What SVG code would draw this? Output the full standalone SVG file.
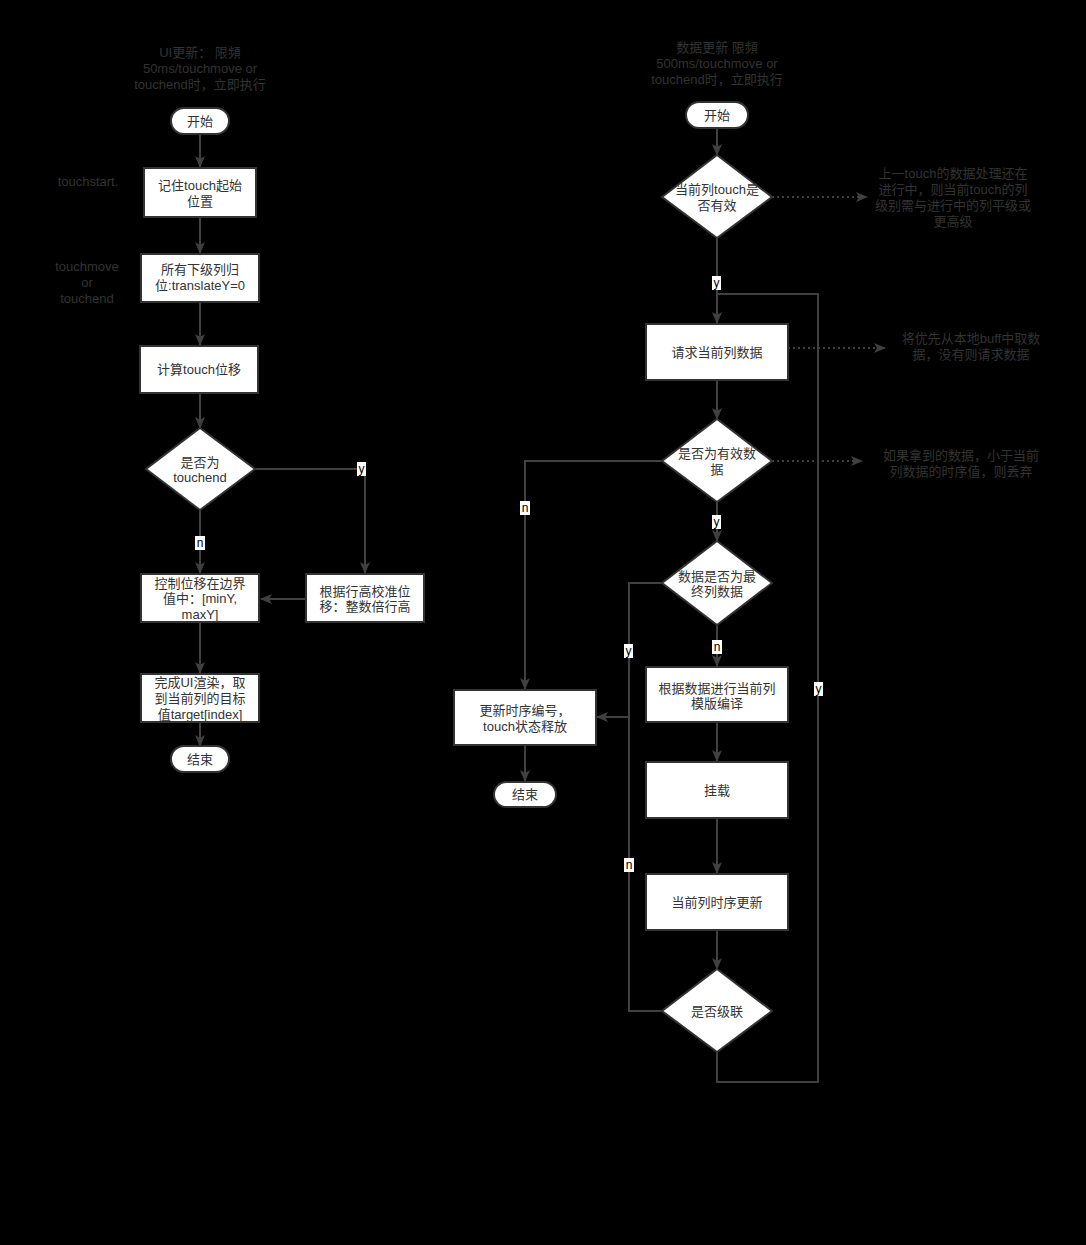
<svg xmlns="http://www.w3.org/2000/svg" width="1086" height="1245" viewBox="0 0 1086 1245">
<defs>
<style>
text{font-family:"Liberation Sans","Noto Sans CJK SC",sans-serif;font-size:13px;fill:#333;text-anchor:middle;dominant-baseline:central}
.node rect,.node polygon{fill:#fff;stroke:#333;stroke-width:2}
.ann{fill:#333}
.c{fill:none;stroke:#404040;stroke-width:2}
.d{fill:none;stroke:#404040;stroke-width:2;stroke-dasharray:2 3}
.lb{fill:#fff;stroke:none}
.lt{fill:#000;font-size:12px}
</style>
<marker id="ah" viewBox="0 0 12 12" refX="11" refY="6" markerWidth="12" markerHeight="12" markerUnits="userSpaceOnUse" orient="auto">
<path d="M0,1 L12,6 L0,11 L3,6 Z" fill="#404040"/>
</marker>
</defs>
<rect x="0" y="0" width="1086" height="1245" fill="#000"/>

<g id="annotations">
<text class="ann" x="200" y="52"><tspan x="200" y="52">UI更新： 限頻</tspan><tspan x="200" y="68">50ms/touchmove or</tspan><tspan x="200" y="84">touchend时，立即执行</tspan></text>
<text class="ann" x="88" y="181">touchstart.</text>
<text class="ann" x="87" y="266"><tspan x="87" y="266">touchmove</tspan><tspan x="87" y="282">or</tspan><tspan x="87" y="298">touchend</tspan></text>
<text class="ann" x="717" y="47"><tspan x="717" y="47">数据更新 限頻</tspan><tspan x="717" y="63">500ms/touchmove or</tspan><tspan x="717" y="79">touchend时，立即执行</tspan></text>
<text class="ann" x="953" y="173"><tspan x="953" y="173">上一touch的数据处理还在</tspan><tspan x="953" y="189">进行中，则当前touch的列</tspan><tspan x="953" y="205">级别需与进行中的列平级或</tspan><tspan x="953" y="221">更高级</tspan></text>
<text class="ann" x="971" y="338"><tspan x="971" y="338">将优先从本地buff中取数</tspan><tspan x="971" y="354">据，没有则请求数据</tspan></text>
<text class="ann" x="961" y="455"><tspan x="961" y="455">如果拿到的数据，小于当前</tspan><tspan x="961" y="471">列数据的时序值，则丢弃</tspan></text>
</g>

<g id="connectors">
<line class="c" x1="200" y1="134" x2="200" y2="167" marker-end="url(#ah)"/>
<line class="c" x1="200" y1="217" x2="200" y2="253" marker-end="url(#ah)"/>
<line class="c" x1="200" y1="302" x2="200" y2="345" marker-end="url(#ah)"/>
<line class="c" x1="200" y1="393" x2="200" y2="428" marker-end="url(#ah)"/>
<polyline class="c" points="255,469 365,469 365,573" marker-end="url(#ah)"/>
<line class="c" x1="200" y1="510" x2="200" y2="573" marker-end="url(#ah)"/>
<line class="c" x1="306" y1="599" x2="261" y2="599" marker-end="url(#ah)"/>
<line class="c" x1="200" y1="622" x2="200" y2="673" marker-end="url(#ah)"/>
<line class="c" x1="200" y1="722" x2="200" y2="746" marker-end="url(#ah)"/>

<line class="c" x1="717" y1="128" x2="717" y2="155" marker-end="url(#ah)"/>
<line class="d" x1="772" y1="197" x2="867" y2="197" marker-end="url(#ah)"/>
<line class="c" x1="717" y1="238" x2="717" y2="323" marker-end="url(#ah)"/>
<line class="d" x1="788" y1="348" x2="885" y2="348" marker-end="url(#ah)"/>
<line class="c" x1="717" y1="380" x2="717" y2="419" marker-end="url(#ah)"/>
<line class="d" x1="772" y1="461" x2="862" y2="461" marker-end="url(#ah)"/>
<polyline class="c" points="662,461 525,461 525,689" marker-end="url(#ah)"/>
<line class="c" x1="717" y1="502" x2="717" y2="541" marker-end="url(#ah)"/>
<polyline class="c" points="662,583 629,583 629,717 597,717" marker-end="url(#ah)"/>
<polyline class="c" points="662,1011 629,1011 629,717"/>
<line class="c" x1="717" y1="625" x2="717" y2="666" marker-end="url(#ah)"/>
<line class="c" x1="717" y1="722" x2="717" y2="761" marker-end="url(#ah)"/>
<line class="c" x1="717" y1="818" x2="717" y2="873" marker-end="url(#ah)"/>
<line class="c" x1="717" y1="930" x2="717" y2="969" marker-end="url(#ah)"/>
<polyline class="c" points="717,1052 717,1082 818,1082 818,294 717,294"/>
<line class="c" x1="525" y1="745" x2="525" y2="781" marker-end="url(#ah)"/>

<rect class="lb" x="357" y="462" width="9" height="14"/><text class="lt" x="361.5" y="469">y</text>
<rect class="lb" x="195" y="536" width="10" height="14"/><text class="lt" x="200" y="543">n</text>
<rect class="lb" x="712" y="276" width="9" height="14"/><text class="lt" x="716.5" y="283">y</text>
<rect class="lb" x="520" y="501" width="10" height="14"/><text class="lt" x="525" y="508">n</text>
<rect class="lb" x="712" y="515" width="9" height="14"/><text class="lt" x="716.5" y="522">y</text>
<rect class="lb" x="624" y="644" width="9" height="14"/><text class="lt" x="628.5" y="651">y</text>
<rect class="lb" x="712" y="640" width="10" height="14"/><text class="lt" x="717" y="647">n</text>
<rect class="lb" x="814" y="682" width="9" height="14"/><text class="lt" x="818.5" y="689">y</text>
<rect class="lb" x="624" y="858" width="10" height="14"/><text class="lt" x="629" y="865">n</text>
</g>

<g id="n-start-l" class="node"><rect x="171" y="108" width="58" height="26" rx="13"/><text x="200" y="121">开始</text></g>
<g id="n-remember" class="node"><rect x="144" y="168" width="112" height="49"/><text x="200" y="185"><tspan x="200" y="185">记住touch起始</tspan><tspan x="200" y="201">位置</tspan></text></g>
<g id="n-reset" class="node"><rect x="141" y="254" width="118" height="48"/><text x="200" y="269"><tspan x="200" y="269">所有下级列归</tspan><tspan x="200" y="285">位:translateY=0</tspan></text></g>
<g id="n-calc" class="node"><rect x="140" y="346" width="118" height="47"/><text x="199" y="369">计算touch位移</text></g>
<g id="n-isend" class="node"><polygon points="200,428 255,469 200,510 146,469"/><text x="200" y="462"><tspan x="200" y="462">是否为</tspan><tspan x="200" y="477">touchend</tspan></text></g>
<g id="n-calibrate" class="node"><rect x="306" y="574" width="118" height="48"/><text x="365" y="591"><tspan x="365" y="591">根据行高校准位</tspan><tspan x="365" y="606">移：整数倍行高</tspan></text></g>
<g id="n-clamp" class="node"><rect x="141" y="574" width="118" height="48"/><text x="200" y="583"><tspan x="200" y="583">控制位移在边界</tspan><tspan x="200" y="598">值中：[minY,</tspan><tspan x="200" y="614">maxY]</tspan></text></g>
<g id="n-render" class="node"><rect x="141" y="674" width="118" height="48"/><text x="200" y="682"><tspan x="200" y="682">完成UI渲染，取</tspan><tspan x="200" y="698">到当前列的目标</tspan><tspan x="200" y="714">值target[index]</tspan></text></g>
<g id="n-end-l" class="node"><rect x="171" y="746" width="58" height="26" rx="13"/><text x="200" y="759">结束</text></g>

<g id="n-start-r" class="node"><rect x="686" y="102" width="62" height="26" rx="13"/><text x="717" y="115">开始</text></g>
<g id="n-valid-touch" class="node"><polygon points="717,155 772,197 717,238 662,197"/><text x="717" y="189"><tspan x="717" y="189">当前列touch是</tspan><tspan x="717" y="205">否有效</tspan></text></g>
<g id="n-request" class="node"><rect x="646" y="324" width="142" height="56"/><text x="717" y="352">请求当前列数据</text></g>
<g id="n-valid-data" class="node"><polygon points="717,419 772,461 717,502 662,461"/><text x="717" y="453"><tspan x="717" y="453">是否为有效数</tspan><tspan x="717" y="469">据</tspan></text></g>
<g id="n-final" class="node"><polygon points="717,541 772,583 717,625 662,583"/><text x="717" y="576"><tspan x="717" y="576">数据是否为最</tspan><tspan x="717" y="591">终列数据</tspan></text></g>
<g id="n-compile" class="node"><rect x="646" y="667" width="142" height="55"/><text x="717" y="688"><tspan x="717" y="688">根据数据进行当前列</tspan><tspan x="717" y="703">模版编译</tspan></text></g>
<g id="n-mount" class="node"><rect x="646" y="762" width="142" height="56"/><text x="717" y="790">挂载</text></g>
<g id="n-seq" class="node"><rect x="646" y="874" width="142" height="56"/><text x="717" y="902">当前列时序更新</text></g>
<g id="n-cascade" class="node"><polygon points="717,969 772,1011 717,1052 662,1011"/><text x="717" y="1011">是否级联</text></g>
<g id="n-release" class="node"><rect x="454" y="690" width="142" height="55"/><text x="525" y="710"><tspan x="525" y="710">更新时序编号，</tspan><tspan x="525" y="726">touch状态释放</tspan></text></g>
<g id="n-end-r" class="node"><rect x="494" y="782" width="62" height="25" rx="12.5"/><text x="525" y="794">结束</text></g>
</svg>
